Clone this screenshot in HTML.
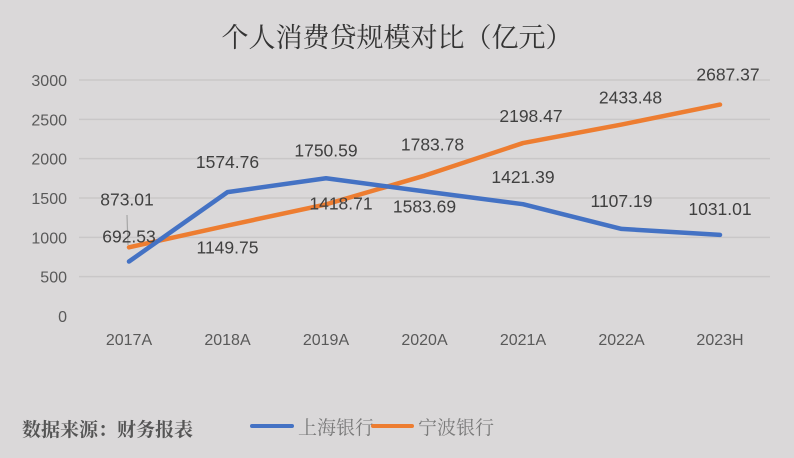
<!DOCTYPE html>
<html><head><meta charset="utf-8"><style>
html,body{margin:0;padding:0;background:#dad8d9;}
svg{display:block;font-family:"Liberation Sans","Noto Sans CJK SC",sans-serif;}
</style></head><body>
<svg width="794" height="458" viewBox="0 0 794 458">
<rect width="794" height="458" fill="#dad8d9"/>
<text x="397" y="47" text-anchor="middle" font-size="27" fill="#333" font-family="'Noto Serif CJK SC','Noto Sans CJK SC',serif">个人消费贷规模对比（亿元）</text>
<g id="grid"></g><g id="yt"></g><g id="xt"></g><g id="lines"></g><g id="labels"></g>
<text x="22" y="436" font-size="19" font-weight="bold" fill="#555" font-family="'Noto Serif CJK SC','Noto Sans CJK SC',serif">数据来源：财务报表</text>
<g>
<line x1="252" y1="426" x2="292" y2="426" stroke="#4472c4" stroke-width="4" stroke-linecap="round"/>
<text x="298" y="434" font-size="19" fill="#7a7a7a" font-family="'Noto Serif CJK SC','Noto Sans CJK SC',serif">上海银行</text></g>
<g>
<line x1="373" y1="426" x2="412" y2="426" stroke="#ed7d31" stroke-width="4" stroke-linecap="round"/>
<text x="418" y="434" font-size="19" fill="#7a7a7a" font-family="'Noto Serif CJK SC','Noto Sans CJK SC',serif">宁波银行</text></g>
</svg>
<script>
const categories=["2017A","2018A","2019A","2020A","2021A","2022A","2023H"];
const shanghai=[692.53,1574.76,1750.59,1583.69,1421.39,1107.19,1031.01];
const ningbo=[873.01,1149.75,1418.71,1783.78,2198.47,2433.48,2687.37];
const yTicks=[0,500,1000,1500,2000,2500,3000];
const NS="http://www.w3.org/2000/svg";
const x=i=>129+i*98.5;
const y=v=>316-v*(236/3000);
function mk(tag,attrs,parent,txt){const e=document.createElementNS(NS,tag);for(const k in attrs)e.setAttribute(k,attrs[k]);if(txt!==undefined)e.textContent=txt;document.getElementById(parent).appendChild(e);return e;}
yTicks.forEach(t=>{
 if(t>0){const g=mk('line',{x1:79,x2:770,y1:y(t),y2:y(t),stroke:'#c9c7c8','stroke-width':1.5},'grid');
 
 }
 const l=mk('text',{x:67,y:y(t)+6,'text-anchor':'end','font-size':16,fill:'#595959'},'yt',String(t));
 
 
});
categories.forEach((c,i)=>{
 const l=mk('text',{x:x(i),y:345,'text-anchor':'middle','font-size':16,fill:'#595959'},'xt',c);
 
 
});
function series(vals,color,name){
 const p=mk('polyline',{points:vals.map((v,i)=>x(i)+','+y(v)).join(' '),fill:'none',stroke:color,'stroke-width':4.5,'stroke-linejoin':'round','stroke-linecap':'round'},'lines');
 
 
}
series(ningbo,'#ed7d31','line-ningbo');
series(shanghai,'#4472c4','line-shanghai');
// label offsets (layout)
const sOff=[[0,-25],[0,-30],[0,-28],[0,15],[0,-27],[0,-28],[0,-26]];
const nOff=[[-2,-48],[0,22],[15,-1],[8,-31],[8,-27],[9,-27],[8,-30]];
mk('line',{x1:127,y1:215,x2:128,y2:245,stroke:'#a6a6a6','stroke-width':1.2},'labels');
function labels(vals,off,name){vals.forEach((v,i)=>{
 const t=mk('text',{x:x(i)+off[i][0],y:y(v)+off[i][1]+6,'text-anchor':'middle','font-size':17.5,fill:'#404040'},'labels',v.toFixed(2));
 
 
});}
labels(shanghai,sOff,'data-label-shanghai');
labels(ningbo,nOff,'data-label-ningbo');
</script>
</body></html>
